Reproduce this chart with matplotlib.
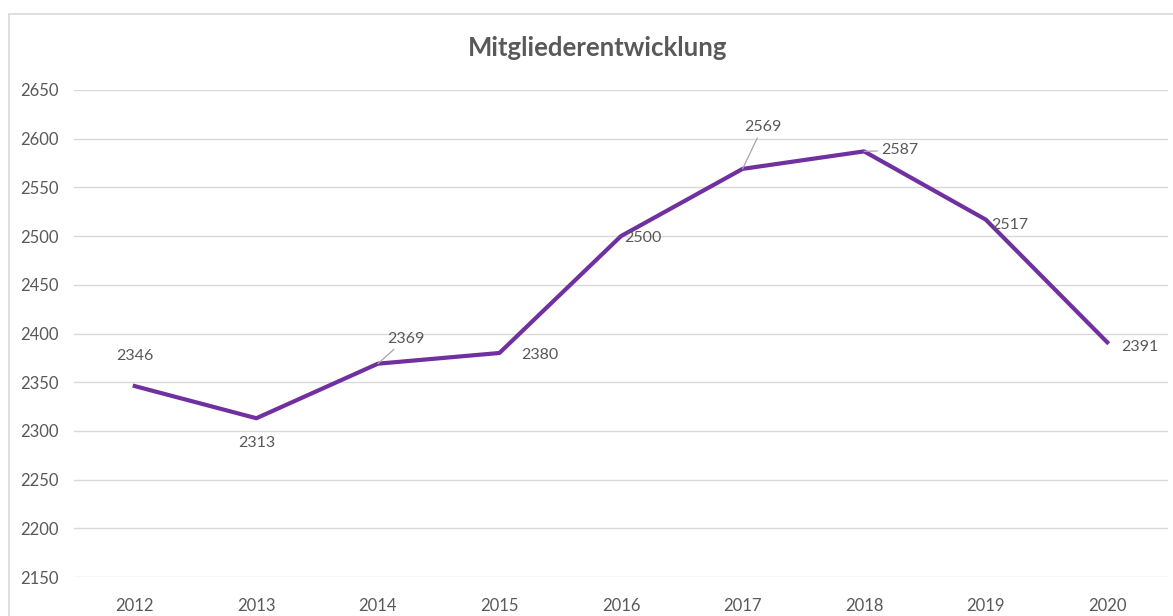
import matplotlib
matplotlib.use("Agg")
import matplotlib.pyplot as plt
from matplotlib.patches import Rectangle

years = ["2012", "2013", "2014", "2015", "2016", "2017", "2018", "2019", "2020"]
members = [2346, 2313, 2369, 2380, 2500, 2569, 2587, 2517, 2391]
yticks = list(range(2150, 2651, 50))

# label offsets in pixels (dx, dy) and whether a leader line is drawn
label_offsets = [(0, 30), (0, -25), (28, 25), (40, -2), (22, -2), (20, 42), (36, 1), (24, -5), (33, -5)]
leaders = [False, False, True, False, False, True, True, False, False]

TEXT = "#595959"
GRID = "#D9D9D9"
LINE = "#7030A0"
FONT = ["Lato", "DejaVu Sans"]

plt.rcParams["font.family"] = FONT

fig = plt.figure(figsize=(11.73, 6.16), dpi=100)
fig.patches.append(Rectangle((9 / 1173, -0.1), 1.2, 1 - 14 / 616 + 0.1,
                             transform=fig.transFigure, fill=False,
                             edgecolor=GRID, linewidth=1.2))
ax = fig.add_axes([74 / 1173, 1 - 577 / 616, (1168 - 74) / 1173, (577 - 90) / 616])

x = list(range(len(years)))
ax.plot(x, members, color=LINE, linewidth=3.0, solid_joinstyle="round", zorder=3)

for xi, v, (dx, dy), lead in zip(x, members, label_offsets, leaders):
    kw = {}
    if lead:
        kw["arrowprops"] = dict(arrowstyle="-", color="#A6A6A6", linewidth=0.9,
                                shrinkA=1, shrinkB=0)
    ax.annotate(str(v), (xi, v), xytext=(dx, dy), textcoords="offset pixels",
                ha="center", va="center", fontsize=11.5, color=TEXT, **kw)

ax.set_xlim(-0.5, len(years) - 0.5)
ax.set_ylim(2150, 2650)
ax.set_yticks(yticks)
ax.set_xticks(x)
ax.set_xticklabels(years)
ax.grid(axis="y", color=GRID, linewidth=1.0)
ax.set_axisbelow(True)
for s in ax.spines.values():
    s.set_visible(False)
ax.tick_params(length=0, labelsize=12, colors=TEXT)
ax.tick_params(axis="y", pad=11)
ax.tick_params(axis="x", pad=15)

fig.text(598 / 1173, 1 - 48 / 616, "Mitgliederentwicklung", ha="center", va="center",
         fontsize=18.5, fontweight="bold", color=TEXT)

fig.savefig("out.png", dpi=100)
